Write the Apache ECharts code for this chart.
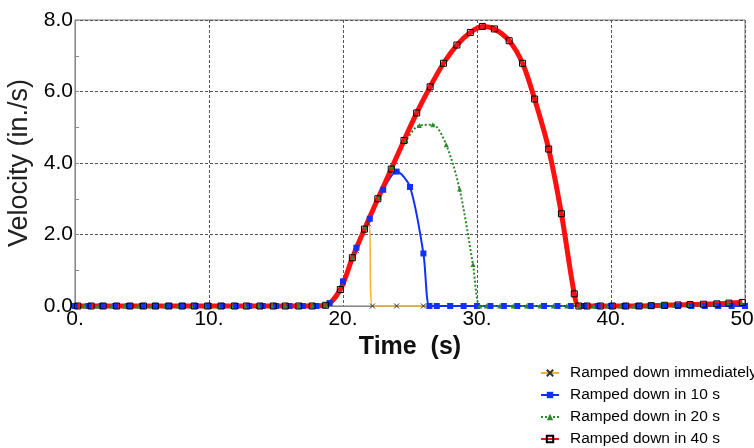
<!DOCTYPE html>
<html>
<head>
<meta charset="utf-8">
<script src="https://cdn.jsdelivr.net/npm/echarts@6/dist/echarts.min.js"></script>
<style>
  html, body { margin: 0; padding: 0; background: #fff; }
  #chart { width: 754px; height: 448px; }
</style>
</head>
<body>
<div id="chart"></div>
<script>
// velocity history, values (time in s, velocity in in./s)
var names = ['Ramped down immediately', 'Ramped down in 10 s', 'Ramped down in 20 s', 'Ramped down in 40 s'];

var tImmed = [0, 2, 4, 6, 8, 10, 12, 14, 16, 18, 19, 20, 21, 21.9, 22.2, 24, 26, 28, 30, 32, 34, 36, 38, 40, 42, 44, 46, 48, 50];
var vImmed = [0, 0, 0, 0, 0, 0, 0, 0, 0, 0, 0.08, 0.65, 1.55, 2.3, 0, 0, 0, 0, 0, 0, 0, 0, 0, 0, 0, 0, 0, 0, 0.02];

var t10 = [0, 1, 2, 3, 4, 5, 6, 7, 8, 9, 10, 11, 12, 13, 14, 15, 16, 17, 18, 19, 20, 21, 22, 23, 24, 25, 26, 26.45,
  27, 28, 29, 30, 31, 32, 33, 34, 35, 36, 37, 38, 39, 40, 41, 42, 43, 44, 45, 46, 47, 48, 49, 50];
var v10 = [0, 0, 0, 0, 0, 0, 0, 0, 0, 0, 0, 0, 0, 0, 0, 0, 0, 0, 0, 0.08, 0.69, 1.63, 2.44, 3.25, 3.76, 3.33, 1.47, 0,
  0, 0, 0, 0, 0, 0, 0, 0, 0, 0, 0, 0, 0, 0, 0, 0, 0, 0, 0, 0, 0, 0, 0, 0];

var t20 = [0.7, 1.7, 2.7, 3.7, 4.7, 5.7, 6.7, 7.7, 8.7, 9.7, 10.7, 11.7, 12.7, 13.7, 14.7, 15.7, 16.7, 17.7, 18.7,
  19.7, 20.7, 21.7, 22.7, 23.7, 24.7, 25.7, 26.7, 27.7, 28.7, 29.7, 30.2, 30.7, 31.7, 32.7, 33.7, 34.7, 35.7,
  36.7, 37.7, 38.7, 39.7, 40.7, 41.7, 42.7, 43.7, 44.7, 45.7, 46.7, 47.7, 48.7, 49.7];
var v20 = [0, 0, 0, 0, 0, 0, 0, 0, 0, 0, 0, 0, 0, 0, 0, 0, 0, 0, 0.02,
  0.4, 1.35, 2.2, 3.05, 3.9, 4.62, 5.05, 5.07, 4.51, 3.27, 1.16, 0, 0, 0, 0, 0, 0, 0,
  0, 0, 0, 0, 0, 0, 0, 0.01, 0.02, 0.03, 0.04, 0.05, 0.06, 0.07];

var t40 = [0.2, 1.2, 2.1, 3.1, 4.1, 5.1, 6.0, 7.0, 8.0, 8.9, 9.9, 10.9, 11.9, 12.8, 13.8, 14.8, 15.7, 16.7, 17.7,
  18.7, 19.8, 20.7, 21.6, 22.6, 23.6, 24.55, 25.5, 26.5, 27.5, 28.5, 29.5, 30.4, 31.3, 32.4, 33.4, 34.3, 35.35,
  36.3, 37.26, 37.6, 38.2, 39.2, 40.1, 41.1, 42.1, 43.0, 44.0, 45.0, 45.9, 46.9, 47.9, 48.8, 49.8];
var v40 = [0, 0, 0, 0, 0, 0, 0, 0, 0, 0, 0, 0, 0, 0, 0, 0, 0, 0, 0,
  0.02, 0.46, 1.35, 2.15, 3.0, 3.83, 4.63, 5.4, 6.13, 6.79, 7.3, 7.65, 7.82, 7.75, 7.42, 6.79, 5.79, 4.39,
  2.58, 0.34, 0, 0, 0, 0, 0, 0, 0.01, 0.02, 0.03, 0.04, 0.05, 0.06, 0.08, 0.1];

var xTicks = [0, 10, 20, 30, 40, 50];
var yTicks = [0, 2, 4, 6, 8];

function pairs(t, v) {
  var out = [];
  for (var i = 0; i < t.length; i++) out.push([t[i], v[i]]);
  return out;
}

var chart = echarts.init(document.getElementById('chart'));

chart.setOption({
  animation: false,
  backgroundColor: '#fff',
  grid: {
    left: 75, right: 9, top: 20, bottom: 142,
    outerBoundsMode: 'none', containLabel: false,
    show: true, borderColor: '#777', borderWidth: 1
  },
  legend: {
    orient: 'vertical',
    left: 540, top: 365, height: 83,
    padding: 0,
    itemWidth: 18, itemHeight: 8, itemGap: 6,
    textStyle: { fontFamily: 'Liberation Sans', fontSize: 15.5, lineHeight: 16, color: '#000', padding: [0, 0, 0, 6] },
    data: names
  },
  xAxis: {
    type: 'value',
    min: xTicks[0], max: xTicks[xTicks.length - 1], interval: 10,
    name: 'Time  (s)',
    nameLocation: 'middle',
    nameGap: 23,
    nameTextStyle: { fontFamily: 'Liberation Sans', fontSize: 25, fontWeight: 'bold', color: '#111' },
    axisLine: { show: true, lineStyle: { color: '#888' } },
    axisTick: { show: false },
    axisLabel: {
      margin: 3, fontFamily: 'Liberation Sans', fontSize: 21, color: '#000',
      formatter: function (v) { return v + '.'; }
    },
    splitLine: { show: true, lineStyle: { color: '#555', type: [3, 2] } }
  },
  yAxis: {
    type: 'value',
    min: yTicks[0], max: yTicks[yTicks.length - 1], interval: 2,
    name: 'Velocity (in./s)',
    nameLocation: 'middle',
    nameGap: 38,
    nameTextStyle: { fontFamily: 'Liberation Sans', fontSize: 27, color: '#222' },
    axisLine: { show: true, lineStyle: { color: '#888' } },
    axisTick: { show: true, inside: true, length: 4, lineStyle: { color: '#888' } },
    minorTick: { show: true, splitNumber: 2, length: 4, lineStyle: { color: '#888' } },
    axisLabel: {
      margin: 2, fontFamily: 'Liberation Sans', fontSize: 21, color: '#000',
      formatter: function (v) { return v.toFixed(1); }
    },
    splitLine: { show: true, lineStyle: { color: '#555', type: [3, 2] } }
  },
  series: [
    {
      name: names[0], type: 'line', smooth: 0.3, clip: false,
      data: pairs(tImmed, vImmed),
      symbol: 'path://M0,0L10,10M10,0L0,10', symbolSize: 5,
      itemStyle: { color: '#333', borderColor: '#333', borderWidth: 1 },
      lineStyle: { color: '#f5b335', width: 1.5 }
    },
    {
      name: names[1], type: 'line', smooth: 0.3, clip: false,
      data: pairs(t10, v10),
      symbol: 'rect', symbolSize: 6,
      itemStyle: { color: '#1030ff' },
      lineStyle: { color: '#1030ff', width: 2 }
    },
    {
      name: names[2], type: 'line', smooth: 0.3, clip: false,
      data: pairs(t20, v20),
      symbol: 'triangle', symbolSize: 5,
      itemStyle: { color: '#2a8a2a' },
      lineStyle: { color: '#2a8a2a', width: 2, type: 'dotted' }
    },
    {
      name: names[3], type: 'line', smooth: 0.3, clip: false,
      data: pairs(t40, v40),
      symbol: 'rect', symbolSize: 6,
      itemStyle: { color: 'rgba(0,0,0,0)', borderColor: '#000', borderWidth: 1 },
      lineStyle: { color: '#ff1010', width: 5 }
    }
  ]
});
</script>
</body>
</html>
